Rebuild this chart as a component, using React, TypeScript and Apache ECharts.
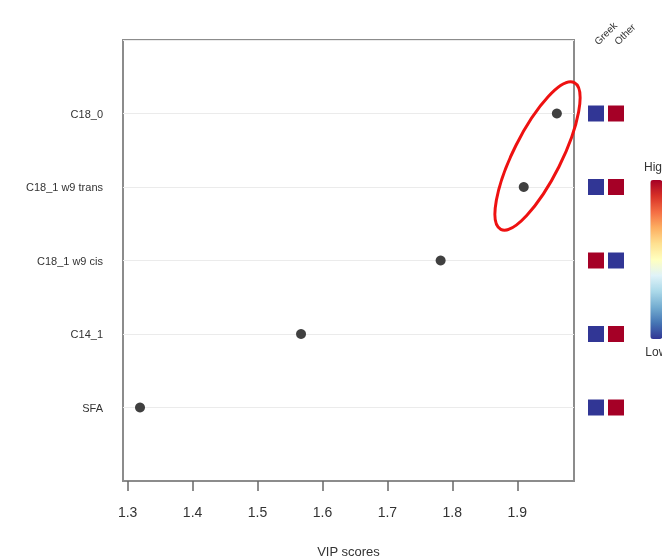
import React, { useEffect, useRef } from "react";
import * as echarts from "echarts";

const categories = ["SFA", "C14_1", "C18_1 w9 cis", "C18_1 w9 trans", "C18_0"];
const vipScores = [1.319, 1.567, 1.782, 1.91, 1.961];
const groups = ["Greek", "Other"];
const greekLevel = [0, 0, 1, 0, 0];
const otherLevel = [1, 1, 0, 1, 1];
const xTicks = [1.3, 1.4, 1.5, 1.6, 1.7, 1.8, 1.9];
const legendText = ["High", "Low"];
const rampColors = [
  "#313695", "#4575b4", "#74add1", "#abd9e9", "#e0f3f8", "#ffffbf",
  "#fee090", "#fdae61", "#f46d43", "#d73027", "#a50026",
];

export default function App() {
  const ref = useRef<HTMLDivElement>(null);
  useEffect(() => {
    if (!ref.current) return;
    const chart = echarts.init(ref.current, null, { renderer: "svg" });
    const yIdx = categories.map((_, i) => i + 1);
    const heatData: any[] = [];
    categories.forEach((_, i) => {
      heatData.push([groups[0], yIdx[i], greekLevel[i]]);
      heatData.push([groups[1], yIdx[i], otherLevel[i]]);
    });
    chart.setOption({
      animation: false,
      textStyle: { fontFamily: "Liberation Sans, Arial, sans-serif" },
      grid: [
        { left: 123, right: 88, top: 40, bottom: 77, outerBoundsMode: "none", containLabel: false, show: true, borderColor: "#8c8c8c", borderWidth: 2, backgroundColor: "transparent" },
        { left: 586, width: 40, top: 40, bottom: 77, outerBoundsMode: "none", containLabel: false },
      ],
      xAxis: [
        {
          gridIndex: 0,
          type: "value",
          min: 1.2928,
          max: 1.9874,
          name: "VIP scores",
          nameLocation: "middle",
          nameGap: 64,
          nameTextStyle: { fontSize: 13, color: "#333" },
          axisLine: { show: true, lineStyle: { color: "#8c8c8c", width: 2 } },
          axisTick: { show: true, length: 10, customValues: xTicks, lineStyle: { color: "#666", width: 1.5 } },
          axisLabel: { customValues: xTicks, fontSize: 14, color: "#333", margin: 24, formatter: (v: number) => v.toFixed(1) },
          splitLine: { show: false },
        },
        {
          gridIndex: 1,
          type: "category",
          position: "top",
          data: groups,
          axisLine: { show: false },
          axisTick: { show: false },
          axisLabel: { rotate: 45, fontSize: 10, color: "#333", margin: -3 },
        },
      ],
      yAxis: [
        {
          gridIndex: 0,
          type: "value",
          min: 0,
          max: 6,
          interval: 1,
          axisLine: { show: false },
          axisTick: { show: false },
          axisLabel: {
            customValues: yIdx,
            fontSize: 11,
            color: "#333",
            margin: 20,
            formatter: (v: number) => categories[Math.round(v) - 1] ?? "",
          },
          splitLine: { show: true, lineStyle: { color: "#ebebeb", width: 1 } },
        },
        { gridIndex: 1, type: "value", min: 0, max: 6, show: false },
      ],
      visualMap: {
        type: "continuous",
        seriesIndex: 1,
        dimension: 2,
        min: 0,
        max: 1,
        calculable: false,
        orient: "vertical",
        left: 644,
        top: 161,
        padding: 0,
        itemWidth: 12,
        itemHeight: 159,
        textGap: 7,
        text: legendText,
        textStyle: { fontSize: 12, color: "#333" },
        inRange: { color: rampColors },
      },
      series: [
        {
          type: "scatter",
          xAxisIndex: 0,
          yAxisIndex: 0,
          symbolSize: 10,
          itemStyle: { color: "#404040", opacity: 1 },
          data: vipScores.map((v, i) => [v, yIdx[i]]),
        },
        {
          type: "scatter",
          xAxisIndex: 1,
          yAxisIndex: 1,
          symbol: "rect",
          symbolSize: [16, 16],
          itemStyle: { opacity: 1 },
          data: heatData,
        },
      ],
      graphic: [
        {
          type: "ellipse",
          x: 537.5,
          y: 156,
          rotation: (63.4 * Math.PI) / 180,
          shape: { cx: 0, cy: 0, rx: 82, ry: 24 },
          style: { fill: "none", stroke: "#ee1111", lineWidth: 3 },
          z: 100,
        },
      ],
    });
    return () => chart.dispose();
  }, []);
  return <div ref={ref} style={{ position: "fixed", left: 0, top: 0, width: 662, height: 558 }} />;
}
